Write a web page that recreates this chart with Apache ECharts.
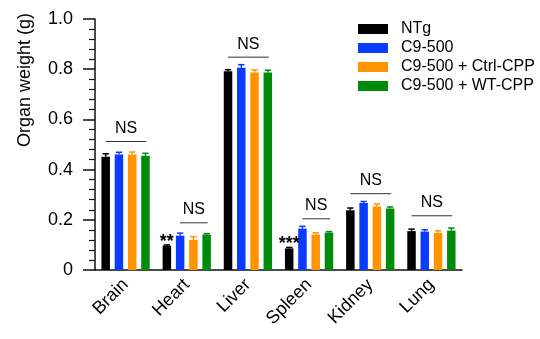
<!DOCTYPE html>
<html><head><meta charset="utf-8">
<script src="https://cdn.jsdelivr.net/npm/echarts@6/dist/echarts.min.js"></script>
<style>html,body{margin:0;padding:0;background:#fff}#c{width:540px;height:339px}</style>
</head><body><div id="c"></div>
<script>
const categories = ['Brain', 'Heart', 'Liver', 'Spleen', 'Kidney', 'Lung'];
const groups = ['NTg', 'C9-500', 'C9-500 + Ctrl-CPP', 'C9-500 + WT-CPP'];
const colors = ['#000000', '#0a3cff', '#ff9400', '#008c0a'];
const ntg = [0.451, 0.097, 0.792, 0.086, 0.238, 0.155];
const c9 = [0.460, 0.137, 0.806, 0.165, 0.267, 0.153];
const ctrl = [0.460, 0.120, 0.787, 0.141, 0.253, 0.148];
const wt = [0.455, 0.141, 0.787, 0.149, 0.245, 0.157];
const ntgErr = [0.012, 0.003, 0.006, 0.004, 0.009, 0.008];
const c9Err = [0.009, 0.010, 0.012, 0.009, 0.006, 0.007];
const ctrlErr = [0.010, 0.013, 0.010, 0.007, 0.010, 0.008];
const wtErr = [0.010, 0.004, 0.009, 0.004, 0.006, 0.010];
const yTicks = [0, 0.2, 0.4, 0.6, 0.8, 1.0];
// NS brackets: [category, y, fromBar, toBar]
const nsBrackets = [[0, 0.512, 0, 3], [1, 0.188, 1, 3], [2, 0.848, 0, 3], [3, 0.204, 1, 3], [4, 0.304, 0, 3], [5, 0.216, 0, 3]];
// significance stars: [category, y, bar, text]
const stars = [[1, 0.112, 0, '**'], [3, 0.104, 0, '***']];

const values = [ntg, c9, ctrl, wt];
const errs = [ntgErr, c9Err, ctrlErr, wtErr];
const BW = 8.5, GAPR = 0.56, GAP = BW * GAPR;
function barOffset(i) { const total = 4 * BW + 3 * GAP; return -total / 2 + BW / 2 + i * (BW + GAP); }
const FONT = '"Liberation Sans", Arial, sans-serif';

const series = [];
groups.forEach((g, gi) => {
  series.push({ name: g, type: 'bar', data: values[gi], barWidth: BW, barGap: (GAPR * 100) + '%',
    itemStyle: { color: colors[gi] }, z: 2 });
});
groups.forEach((g, gi) => {
  series.push({ name: g + ' err', type: 'custom', z: 3,
    data: values[gi].map((v, ci) => [ci, v, errs[gi][ci]]),
    renderItem: function (params, api) {
      const ci = api.value(0), m = api.value(1), e = api.value(2);
      const x = api.coord([ci, 0])[0] + barOffset(gi);
      const y0 = api.coord([ci, m])[1];
      const y1 = api.coord([ci, m + e])[1];
      const st = { stroke: colors[gi], lineWidth: 1.5 };
      return { type: 'group', children: [
        { type: 'line', shape: { x1: x, y1: y0, x2: x, y2: y1 }, style: st },
        { type: 'line', shape: { x1: x - 3.2, y1: y1, x2: x + 3.2, y2: y1 }, style: st }
      ] };
    } });
});
series.push({ name: 'ns', type: 'custom', z: 4, data: nsBrackets,
  renderItem: function (params, api) {
    const ci = api.value(0), y = api.value(1), a = api.value(2), b = api.value(3);
    const cx = api.coord([ci, y]);
    const xa = cx[0] + barOffset(a), xb = cx[0] + barOffset(b) + 1;
    return { type: 'group', children: [
      { type: 'line', shape: { x1: xa, y1: cx[1], x2: xb, y2: cx[1] }, style: { stroke: '#333', lineWidth: 1 } },
      { type: 'text', x: (xa + xb) / 2, y: cx[1] - 5, style: { text: 'NS', align: 'center', verticalAlign: 'bottom', font: '16px ' + FONT, fill: '#000' } }
    ] };
  } });
series.push({ name: 'stars', type: 'custom', z: 4, data: stars,
  renderItem: function (params, api) {
    const ci = api.value(0), y = api.value(1), b = api.value(2);
    const p = api.coord([ci, y]);
    return { type: 'text', x: p[0] + barOffset(b), y: p[1], style: { text: stars[params.dataIndex][3], align: 'center', verticalAlign: 'middle', font: 'bold 18px ' + FONT, fill: '#000' } };
  } });

const chart = echarts.init(document.getElementById('c'));
chart.setOption({
  animation: false,
  backgroundColor: '#fff',
  grid: { left: 95, right: 78, top: 19, bottom: 69 },
  legend: { data: groups, orient: 'vertical', left: 353, top: 16, itemWidth: 30, itemHeight: 10, itemGap: 3,
    icon: 'rect', textStyle: { fontFamily: FONT, fontSize: 16, color: '#000', padding: [0, 0, 0, 8] } },
  xAxis: { type: 'category', data: categories,
    axisLine: { lineStyle: { color: '#111', width: 1.5 } },
    axisTick: { alignWithLabel: true, length: 10, lineStyle: { color: '#111', width: 1.5 } },
    axisLabel: { rotate: 45, fontFamily: FONT, fontSize: 18, color: '#000', margin: 12, interval: 0 } },
  yAxis: { type: 'value', min: yTicks[0], max: yTicks[yTicks.length - 1], interval: 0.2,
    axisLine: { show: true, lineStyle: { color: '#111', width: 1.5 } },
    axisTick: { show: true, length: 12, lineStyle: { color: '#111', width: 1.5 } },
    minorTick: { show: true, splitNumber: 5, length: 6, lineStyle: { color: '#111', width: 1.2 } },
    splitLine: { show: false },
    axisLabel: { fontFamily: FONT, fontSize: 18, color: '#000', margin: 22,
      formatter: v => v === 0 ? '0' : v.toFixed(1) } },
  graphic: [{ type: 'text', x: 25, y: 80, rotation: Math.PI / 2,
    style: { text: 'Organ weight (g)', align: 'center', verticalAlign: 'middle', font: '18px ' + FONT, fill: '#000' } }],
  series: series
});
</script></body></html>
